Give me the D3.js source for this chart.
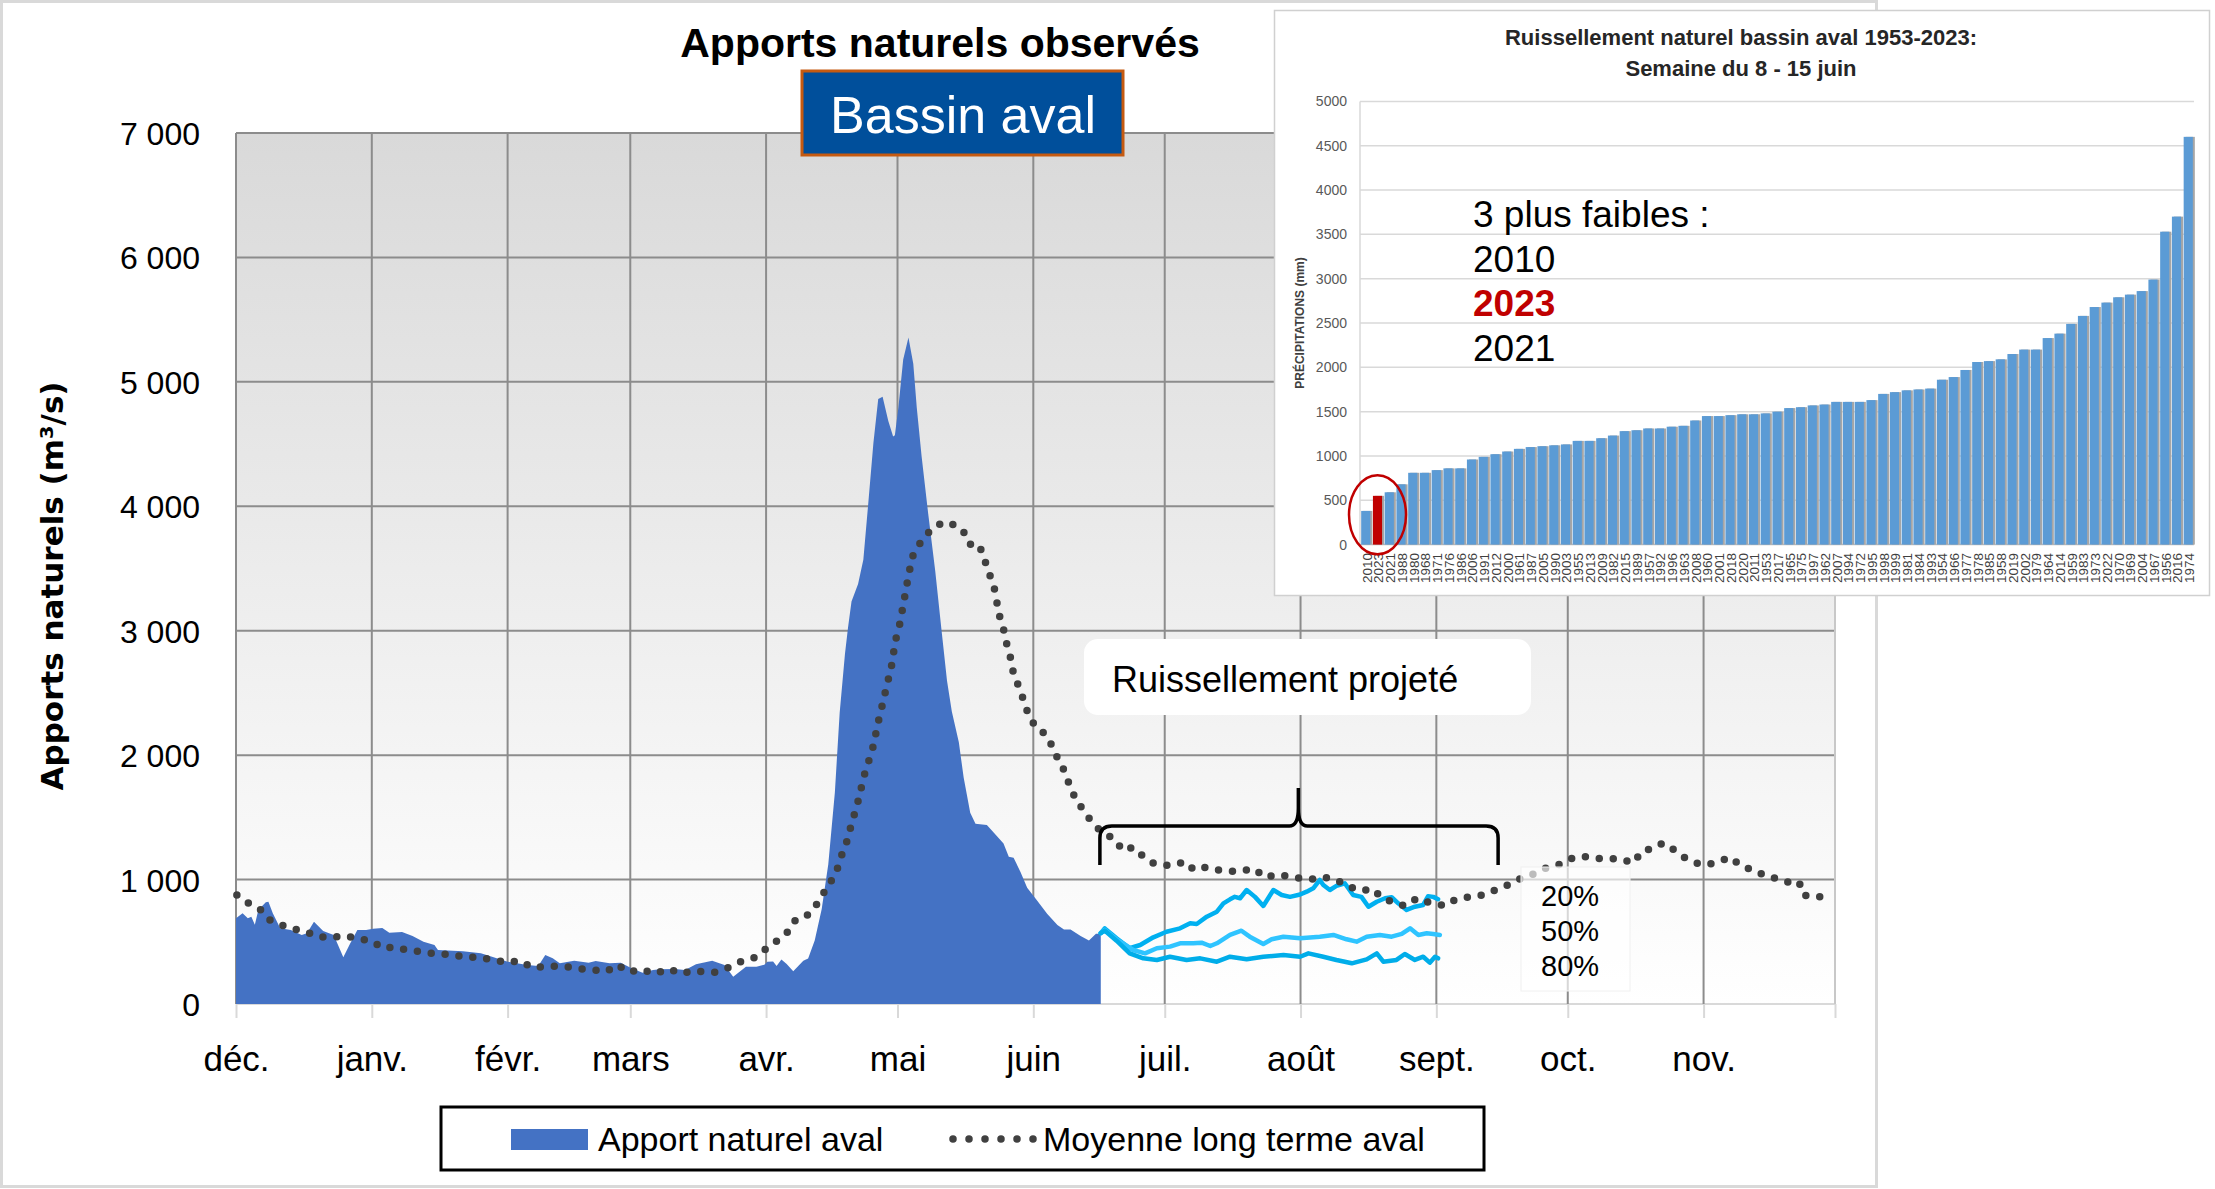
<!DOCTYPE html>
<html lang="fr">
<head>
<meta charset="utf-8">
<title>Apports naturels observés</title>
<script src="https://cdn.jsdelivr.net/npm/d3@7"></script>
<style>
  body { margin: 0; background: #fff; }
  text { font-family: "Liberation Sans", Arial, sans-serif; }
</style>
</head>
<body>
<svg width="2215" height="1189"></svg>
<script>
// ---- data: main chart (day = days since 1 Dec 2022, value in m3/s) ----
var monthLabels = ["déc.", "janv.", "févr.", "mars", "avr.", "mai", "juin", "juil.", "août", "sept.", "oct.", "nov."];
var yTicks = [0, 1000, 2000, 3000, 4000, 5000, 6000, 7000];

var apport = [[0,689],[1.5,729],[2.7,689],[3.5,702],[4.3,636],[5.1,756],[6.8,817],[7.4,822],[8.4,729],[10.1,609],
  [12.5,595],[15,555],[16.2,569],[17.8,662],[19.9,587],[22.3,555],[24.5,375],[26,482],[27.7,595],[29.7,595],
  [31.3,605],[33.4,611],[35,573],[37.9,579],[40.3,547],[42.8,501],[45.3,474],[46.1,434],[51.8,423],[55.9,407],
  [58.8,375],[62,340],[66.5,313],[69,305],[70.6,394],[72.3,367],[73.9,327],[77.2,348],[80.5,332],[82.1,346],
  [85.3,327],[87.8,332],[90.3,287],[92.8,252],[95.2,273],[96.8,279],[100.1,282],[102.5,273],[105,319],[108.7,348],
  [111.5,313],[113.5,220],[116.4,300],[118.8,300],[120.6,316],[121.3,340],[122.6,341],[123.4,305],[124.5,358],
  [125.7,322],[127.2,264],[129.5,348],[130.6,365],[132.1,510],[133.7,764],[135.2,1123],[136.7,1700],[137.8,2340],
  [139,2810],[139.7,3023],[140.5,3235],[142,3376],[143.2,3571],[144.3,4013],[145.5,4508],[146.6,4862],[147.6,4880],
  [148.9,4685],[150,4561],[150.4,4570],[151.2,4791],[152.3,5180],[153.5,5357],[154.6,5145],[155.4,4791],[156.5,4402],
  [158,3942],[159.6,3483],[161.1,2987],[162.3,2598],[163.4,2351],[165,2103],[166.1,1820],[167.6,1537],[168.8,1449],
  [171.4,1438],[173,1377],[175.2,1289],[176.4,1183],[177.5,1176],[179.1,1059],[180.6,935],[182.9,829],[185.2,723],
  [187.5,635],[189,599],[190.5,599],[192.8,547],[194.7,511],[196.3,564],[197.4,564]];

var moyenne = [[0.2,876],[3.1,804],[5.5,761],[7.7,675],[10.4,635],[12.9,603],[15.6,587],[18.6,541],[21.7,533],
  [24.9,549],[28,522],[30.9,509],[33.6,447],[36.2,458],[39.4,429],[42.6,421],[45.8,399],[49.2,399],[52.3,375],
  [55.6,375],[58.8,354],[61.9,335],[64.9,348],[67.6,292],[70.2,300],[73.4,305],[76.4,295],[79.5,279],[82.5,271],
  [84.6,260],[87,316],[89.7,257],[92.5,279],[95.6,244],[98.8,282],[101.7,244],[104.4,268],[106.6,260],[109.3,255],
  [112.2,289],[115.2,340],[118.3,372],[120.6,434],[123.4,506],[125.9,579],[127.4,666],[129.9,695],[132.1,776],
  [133.9,879],[135.7,978],[137.2,1080],[138.2,1190],[139.4,1303],[140.3,1420],[141.2,1530],[142.1,1643],[142.9,1763],
  [143.7,1876],[144.8,1990],[145.7,2103],[146.3,2223],[147.1,2339],[147.9,2457],[148.6,2569],[149.5,2687],[150,2799],
  [150.5,2917],[151.4,3033],[152,3147],[152.6,3263],[153.2,3383],[153.8,3493],[154.6,3614],[156.3,3712],[158.4,3801],
  [161.3,3872],[163.9,3851],[166,3801],[167.4,3695],[169.6,3695],[170.8,3578],[171.8,3472],[173,3359],[173.6,3245],
  [174.2,3129],[175.2,3012],[175.9,2899],[176.8,2782],[177.4,2669],[178.6,2556],[179.7,2450],[180.8,2333],[182.4,2233],
  [184.9,2163],[186.5,2060],[187.8,1954],[189.4,1855],[190.4,1738],[191.9,1636],[193.8,1537],[195.9,1437],[198.3,1367],
  [200.6,1324],[202.4,1233],[204.7,1260],[206.7,1198],[209,1136],[212.3,1115],[214.3,1117],[216.6,1144],[218.7,1077],
  [221.4,1099],[224.1,1077],[226.9,1067],[229.5,1069],[232.4,1088],[234.9,1018],[237.5,1040],[240.6,1024],[243.1,1010],
  [245.9,1005],[248.6,1018],[251.2,997],[254.1,943],[256.9,911],[259.5,925],[261.6,850],[264.3,817],[266.8,788],
  [269.6,850],[272.5,814],[276,790],[278.4,841],[281.1,858],[283.3,864],[285.3,884],[288,925],[290.5,960],[292.6,998],
  [296.5,1049],[299.3,1097],[302.4,1125],[305.3,1176],[307.7,1185],[310.3,1170],[313.2,1170],[316.2,1164],[319,1134],
  [321,1230],[323.4,1249],[325.7,1294],[328.2,1240],[330.7,1176],[333.2,1134],[335.8,1119],[338.8,1149],[341.1,1179],
  [343.7,1104],[346.3,1080],[349.2,1028],[352,1007],[354.5,977],[356.8,983],[357.7,877],[360.1,862],[362,862]];

var proj20 = [[197.4,570],[198.3,608],[201,528],[204,448],[206.4,474],[209.4,536],[212.4,581],[215.5,608],[217.8,649],
  [219.3,643],[221.6,702],[223.9,742],[225.4,809],[226.9,841],[228,861],[229.2,850],[230.7,916],[232.6,861],[234.5,788],
  [236.8,916],[238.7,876],[240.6,861],[242.9,880],[244.4,903],[245.9,930],[247.4,997],[248.2,956],[249.7,916],[251.2,949],
  [253.1,970],[255,876],[256.9,861],[258.5,782],[260.4,822],[262.3,850],[263.8,858],[265.3,809],[267.2,756],[269.1,782],
  [271,796],[272.1,866],[273.3,861],[274.4,842]];
var proj50 = [[197.4,570],[198.3,597],[201,520],[204.8,434],[207.5,407],[210.2,448],[213.2,461],[215.5,488],[218.5,488],
  [220.4,493],[222.4,466],[223.9,488],[226.9,555],[229.5,589],[231.4,541],[234.5,482],[236.4,520],[239.1,541],[242.9,528],
  [247.4,541],[250.5,555],[253.5,520],[255.8,501],[258.1,541],[261.1,555],[263.8,541],[266.1,563],[268,608],[269.9,555],
  [271.8,568],[273.3,563],[274.8,555]];
var proj80 = [[197.4,570],[198.3,590],[201,509],[204,407],[207.1,367],[210.2,354],[213.2,380],[217,354],[220.1,367],
  [223.9,340],[226.9,380],[230.7,359],[234.5,380],[239.1,394],[242.9,380],[244.8,407],[248.2,380],[251.2,354],[254.7,327],
  [258.1,359],[260.4,407],[261.9,340],[264.9,354],[266.8,402],[269.1,354],[271,380],[272.5,332],[273.7,380],[274.4,367]];
var percentLabels = ["20%", "50%", "80%"];

// ---- data: inset, weekly runoff 8-15 June, sorted ascending ----
var years = [2010,2023,2021,1988,1980,1968,1971,1976,1986,2006,1991,2012,2000,1961,1987,2005,1990,2003,1955,2013,
  2009,1982,2015,1989,1957,1992,1996,1963,2008,1960,2001,2018,2020,2011,1953,2017,1965,1975,1997,1962,2007,1994,
  1972,1995,1998,1999,1981,1984,1993,1954,1966,1977,1978,1985,1958,2019,2002,1979,1964,2014,1959,1983,1973,2022,
  1970,1969,2004,1967,1956,2016,1974];
var runoff = [380,550,590,680,810,810,840,860,860,960,990,1020,1050,1080,1100,1110,1120,1130,1170,1170,
  1200,1230,1280,1290,1310,1310,1330,1340,1400,1450,1450,1460,1470,1470,1480,1500,1540,1550,1570,1580,1610,1610,
  1610,1630,1700,1720,1740,1750,1760,1860,1890,1970,2060,2070,2090,2150,2200,2200,2330,2380,2490,2580,2680,2730,
  2790,2820,2860,2990,3530,3700,4600];
var insetTicks = [0,500,1000,1500,2000,2500,3000,3500,4000,4500,5000];
var highlightYear = 2023;

var svg = d3.select("svg");
var start = new Date(2022, 11, 1), end = new Date(2023, 11, 1);
function dayToDate(d) { return new Date(start.getTime() + d * 864e5); }

var x = d3.scaleTime().domain([start, end]).range([236, 1835]);
var y = d3.scaleLinear().domain([0, 7000]).range([1004, 133]);
var fr = d3.formatLocale({decimal: ",", thousands: " ", grouping: [3], currency: ["", " €"]});

// outer frame of the main chart
svg.append("rect")
    .attr("x", 1.5).attr("y", 1.5).attr("width", 1875).attr("height", 1185)
    .attr("fill", "#fff").attr("stroke", "#d9d9d9").attr("stroke-width", 3);

var grad = svg.append("defs").append("linearGradient")
    .attr("id", "bg").attr("x1", 0).attr("y1", 0).attr("x2", 0).attr("y2", 1);
grad.append("stop").attr("offset", "0%").attr("stop-color", "#d9d9d9");
grad.append("stop").attr("offset", "100%").attr("stop-color", "#ffffff");

svg.append("rect")
    .attr("x", x.range()[0]).attr("y", y(7000))
    .attr("width", x.range()[1] - x.range()[0]).attr("height", y(0) - y(7000))
    .attr("fill", "url(#bg)");

// grid
var months = d3.timeMonth.range(start, end);
var grid = svg.append("g");
grid.selectAll(".hg").data(yTicks).enter().append("line")
    .attr("x1", x.range()[0]).attr("x2", x.range()[1])
    .attr("y1", function(d) { return y(d); }).attr("y2", function(d) { return y(d); })
    .attr("stroke", function(d) { return d === 0 ? "#d9d9d9" : "#8c8c8c"; })
    .attr("stroke-width", 2);
grid.selectAll(".vg").data(months.concat([end])).enter().append("line")
    .attr("x1", function(d) { return x(d); }).attr("x2", function(d) { return x(d); })
    .attr("y1", y(7000)).attr("y2", y(0))
    .attr("stroke", function(d) { return +d === +end ? "#c8c8c8" : "#8c8c8c"; })
    .attr("stroke-width", 2);

// x axis (month labels)
var xAxis = d3.axisBottom(x).tickValues(months.concat([end]))
    .tickFormat(function(d, i) { return monthLabels[i] || ""; })
    .tickSize(14);
var gx = svg.append("g").attr("transform", "translate(0," + y(0) + ")").call(xAxis);
gx.select(".domain").remove();
gx.selectAll(".tick line").attr("stroke", "#d9d9d9").attr("stroke-width", 2);
gx.selectAll(".tick text").attr("y", 67).attr("dy", 0)
    .attr("font-size", 35).attr("fill", "#000")
    .style("font-family", '"Liberation Sans", Arial, sans-serif');

// y axis labels
var yAxis = d3.axisLeft(y).tickValues(yTicks).tickFormat(fr.format(",")).tickSize(0).tickPadding(36);
var gy = svg.append("g").attr("transform", "translate(" + x.range()[0] + ",0)").call(yAxis);
gy.select(".domain").remove();
gy.selectAll(".tick text").attr("font-size", 32).attr("fill", "#000").attr("dy", "0.36em")
    .style("font-family", '"Liberation Sans", Arial, sans-serif');

svg.append("text")
    .attr("transform", "translate(63,586) rotate(-90)")
    .attr("text-anchor", "middle")
    .style("font-family", '"DejaVu Sans", Verdana, sans-serif')
    .attr("font-weight", "bold").attr("font-size", 31)
    .text("Apports naturels (m³/s)");

// observed inflow area
var area = d3.area()
    .x(function(d) { return x(dayToDate(d[0])); })
    .y0(y(0))
    .y1(function(d) { return y(d[1]); });
svg.append("path").datum(apport).attr("d", area).attr("fill", "#4472c4");

var line = d3.line()
    .x(function(d) { return x(dayToDate(d[0])); })
    .y(function(d) { return y(d[1]); });

// projected runoff
var projections = [
  {data: proj20, color: "#00b0f0"},
  {data: proj50, color: "#2fc4ff"},
  {data: proj80, color: "#00ade9"}
];
svg.selectAll(".proj").data(projections).enter().append("path")
    .attr("d", function(p) { return line(p.data); })
    .attr("fill", "none").attr("stroke", function(p) { return p.color; })
    .attr("stroke-width", 4.5).attr("stroke-linejoin", "round").attr("stroke-linecap", "round");

// long-term mean, dotted
svg.append("path").datum(moyenne).attr("d", line)
    .attr("fill", "none").attr("stroke", "#404040").attr("stroke-width", 7.5)
    .attr("stroke-linecap", "round").attr("stroke-dasharray", "0 14");

// percentile labels with translucent box
svg.append("rect").attr("x", 1521).attr("y", 867).attr("width", 109).attr("height", 124)
    .attr("fill", "#fff").attr("fill-opacity", 0.65).attr("stroke", "#f0f0f0");
svg.selectAll(".pct").data(percentLabels).enter().append("text")
    .attr("x", 1541).attr("y", function(d, i) { return 906 + i * 35; })
    .attr("font-size", 29).text(function(d) { return d; });

// brace over the projection period
var braceL = x(dayToDate(197.2)), braceR = x(dayToDate(288.1)), braceM = x(dayToDate(242.5));
var bTop = y(1431), bBot = y(1117), bTip = y(1736);
svg.append("path")
    .attr("d", "M" + braceL + "," + bBot + "L" + braceL + "," + (bTop + 12) +
      "Q" + braceL + "," + bTop + " " + (braceL + 12) + "," + bTop +
      "L" + (braceM - 9) + "," + bTop + "Q" + braceM + "," + bTop + " " + braceM + "," + (bTop - 18) +
      "L" + braceM + "," + bTip + "M" + braceM + "," + (bTop - 18) +
      "Q" + braceM + "," + bTop + " " + (braceM + 9) + "," + bTop +
      "L" + (braceR - 12) + "," + bTop + "Q" + braceR + "," + bTop + " " + braceR + "," + (bTop + 12) +
      "L" + braceR + "," + bBot)
    .attr("fill", "none").attr("stroke", "#000").attr("stroke-width", 3.5);

svg.append("rect").attr("x", 1084).attr("y", 639).attr("width", 447).attr("height", 76)
    .attr("rx", 14).attr("fill", "#fff");
svg.append("text").attr("x", 1112).attr("y", 692).attr("font-size", 36).text("Ruissellement projeté");

// titles
svg.append("text").attr("x", 940).attr("y", 57).attr("text-anchor", "middle")
    .attr("font-weight", "bold").attr("font-size", 41).text("Apports naturels observés");
svg.append("rect").attr("x", 802).attr("y", 71).attr("width", 321).attr("height", 84)
    .attr("fill", "#004f9b").attr("stroke", "#c55a11").attr("stroke-width", 3);
svg.append("text").attr("x", 963).attr("y", 133).attr("text-anchor", "middle")
    .attr("fill", "#fff").attr("font-size", 52).text("Bassin aval");

// legend
var lg = svg.append("g");
lg.append("rect").attr("x", 441).attr("y", 1107).attr("width", 1043).attr("height", 63)
    .attr("fill", "#fff").attr("stroke", "#000").attr("stroke-width", 3);
lg.append("rect").attr("x", 511).attr("y", 1129).attr("width", 77).attr("height", 21).attr("fill", "#4472c4");
lg.append("text").attr("x", 598).attr("y", 1151).attr("font-size", 34).text("Apport naturel aval");
lg.append("line").attr("x1", 953).attr("x2", 1036).attr("y1", 1139).attr("y2", 1139)
    .attr("stroke", "#404040").attr("stroke-width", 7.5).attr("stroke-linecap", "round")
    .attr("stroke-dasharray", "0 16");
lg.append("text").attr("x", 1043).attr("y", 1151).attr("font-size", 34).text("Moyenne long terme aval");

// ---- inset chart ----
var inset = svg.append("g");
inset.append("rect").attr("x", 1274.5).attr("y", 10.5).attr("width", 935).attr("height", 585)
    .attr("fill", "#fff").attr("stroke", "#d0d0d0").attr("stroke-width", 1.5);

var xb = d3.scaleBand().domain(years).range([1360, 2194]).paddingInner(0.22).paddingOuter(0.1);
var yb = d3.scaleLinear().domain([0, 5000]).range([544.6, 101.4]);

inset.selectAll(".ig").data(insetTicks).enter().append("line")
    .attr("x1", 1360).attr("x2", 2194)
    .attr("y1", function(d) { return yb(d); }).attr("y2", function(d) { return yb(d); })
    .attr("stroke", function(d) { return d === 0 ? "#bfbfbf" : "#d9d9d9"; }).attr("stroke-width", 1.5);
inset.append("line").attr("x1", 1360).attr("x2", 1360).attr("y1", yb(5000)).attr("y2", yb(0))
    .attr("stroke", "#d9d9d9").attr("stroke-width", 1.5);

var ib = d3.axisLeft(yb).tickValues(insetTicks).tickFormat(d3.format("d")).tickSize(0).tickPadding(13);
var giy = inset.append("g").attr("transform", "translate(1360,0)").call(ib);
giy.select(".domain").remove();
giy.selectAll(".tick text").attr("font-size", 14).attr("fill", "#595959")
    .style("font-family", '"Liberation Sans", Arial, sans-serif');

// bars with a thin grey shadow on the right
inset.selectAll(".shadow").data(years).enter().append("rect")
    .attr("x", function(d) { return xb(d) + 2; })
    .attr("y", function(d, i) { return yb(runoff[i]); })
    .attr("width", xb.bandwidth())
    .attr("height", function(d, i) { return yb(0) - yb(runoff[i]); })
    .attr("fill", "#a6a6a6");
inset.selectAll(".bar").data(years).enter().append("rect")
    .attr("x", function(d) { return xb(d); })
    .attr("y", function(d, i) { return yb(runoff[i]); })
    .attr("width", xb.bandwidth())
    .attr("height", function(d, i) { return yb(0) - yb(runoff[i]); })
    .attr("fill", function(d) { return d === highlightYear ? "#c00000" : "#5b9bd5"; });

inset.selectAll(".yl").data(years).enter().append("text")
    .attr("transform", function(d) { return "translate(" + (xb(d) + xb.bandwidth() / 2 + 1) + ",553) rotate(-90)"; })
    .attr("text-anchor", "end").attr("dy", "0.36em")
    .attr("font-size", 13.5).attr("fill", "#404040")
    .text(function(d) { return d; });

inset.append("text").attr("transform", "translate(1304,323) rotate(-90)")
    .attr("text-anchor", "middle").attr("font-weight", "bold").attr("font-size", 12).attr("fill", "#404040")
    .text("PRÉCIPITATIONS (mm)");

inset.append("text").attr("x", 1741).attr("y", 45).attr("text-anchor", "middle")
    .attr("font-weight", "bold").attr("font-size", 22).attr("fill", "#262626")
    .text("Ruissellement naturel bassin aval 1953-2023:");
inset.append("text").attr("x", 1741).attr("y", 76).attr("text-anchor", "middle")
    .attr("font-weight", "bold").attr("font-size", 22).attr("fill", "#262626")
    .text("Semaine du 8 - 15 juin");

// circle around the three lowest years
inset.append("ellipse")
    .attr("cx", xb(years[1]) + xb.bandwidth() / 2).attr("cy", yb(337))
    .attr("rx", 28.5).attr("ry", 39.5)
    .attr("fill", "none").attr("stroke", "#c00000").attr("stroke-width", 2.5);

var note = ["3 plus faibles :"].concat(years.slice(0, 3).map(String));
inset.selectAll(".note").data(note).enter().append("text")
    .attr("x", 1473).attr("y", function(d, i) { return 227 + i * 44.7; })
    .attr("font-size", 37)
    .attr("font-weight", function(d) { return d === String(highlightYear) ? "bold" : "normal"; })
    .attr("fill", function(d) { return d === String(highlightYear) ? "#c00000" : "#000"; })
    .text(function(d) { return d; });
</script>
</body>
</html>
